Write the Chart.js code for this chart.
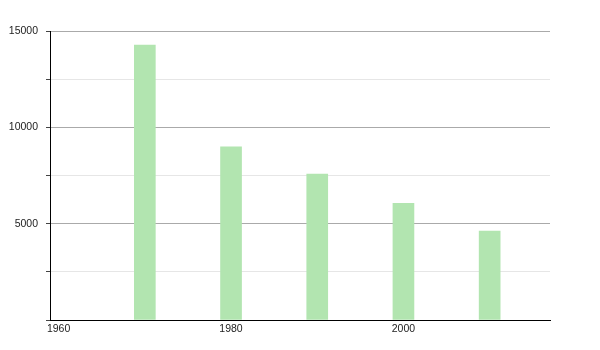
<!DOCTYPE html>
<html>
<head>
<meta charset="utf-8">
<script src="https://cdn.jsdelivr.net/npm/chart.js@4"></script>
<style>
  html, body { margin: 0; padding: 0; background: #fff; }
  #wrap { width: 600px; height: 350px; }
</style>
</head>
<body>
<div id="wrap"><canvas id="popChart"></canvas></div>
<script>
// data
var years = [1970, 1980, 1990, 2000, 2010];
var values = [14270, 8990, 7580, 6050, 4620];
var xTicks = [1960, 1980, 2000];

var barColor = 'rgb(178, 229, 176)';

var ctx = document.getElementById('popChart').getContext('2d');
var popChart = new Chart(ctx, {
    type: 'bar',
    data: {
        datasets: [{
            label: 'Population',
            data: years.map(function (y, i) { return { x: y, y: values[i] }; }),
            backgroundColor: barColor,
            borderWidth: 0,
            barThickness: 21
        }]
    },
    options: {
        responsive: true,
        maintainAspectRatio: false,
        animation: false,
        layout: { padding: { top: 31, right: 50, left: 0, bottom: 0 } },
        plugins: { legend: { display: false }, tooltip: { enabled: false } },
        scales: {
            x: {
                type: 'linear',
                offset: false,
                min: 1959,
                max: 2017,
                afterBuildTicks: function (scale) {
                    scale.ticks = xTicks.map(function (v) { return { value: v }; });
                },
                afterFit: function (scale) { scale.height = 30; },
                border: { display: true, color: '#000', width: 1 },
                grid: { display: false, drawTicks: false },
                ticks: {
                    color: '#222',
                    padding: 3,
                    maxRotation: 0,
                    font: { family: 'Liberation Sans, Arial, sans-serif', size: 10.5 },
                    callback: function (v) { return String(v); }
                }
            },
            y: {
                min: 0,
                max: 15000,
                afterFit: function (scale) { scale.width = 50; },
                border: { display: true, color: '#000', width: 1 },
                grid: {
                    color: function (c) {
                        var v = c.tick.value;
                        if (v === 0) return 'rgba(0,0,0,0)';
                        return v % 5000 === 0 ? '#aaaaaa' : '#e6e6e6';
                    },
                    tickColor: '#444',
                    tickLength: 4,
                    lineWidth: 1
                },
                ticks: {
                    stepSize: 2500,
                    color: '#222',
                    padding: 8,
                    font: { family: 'Liberation Sans, Arial, sans-serif', size: 10.5 },
                    callback: function (v) {
                        if (v === 0 || v % 5000 !== 0) return '';
                        return String(v);
                    }
                }
            }
        }
    }
});
</script>
</body>
</html>
